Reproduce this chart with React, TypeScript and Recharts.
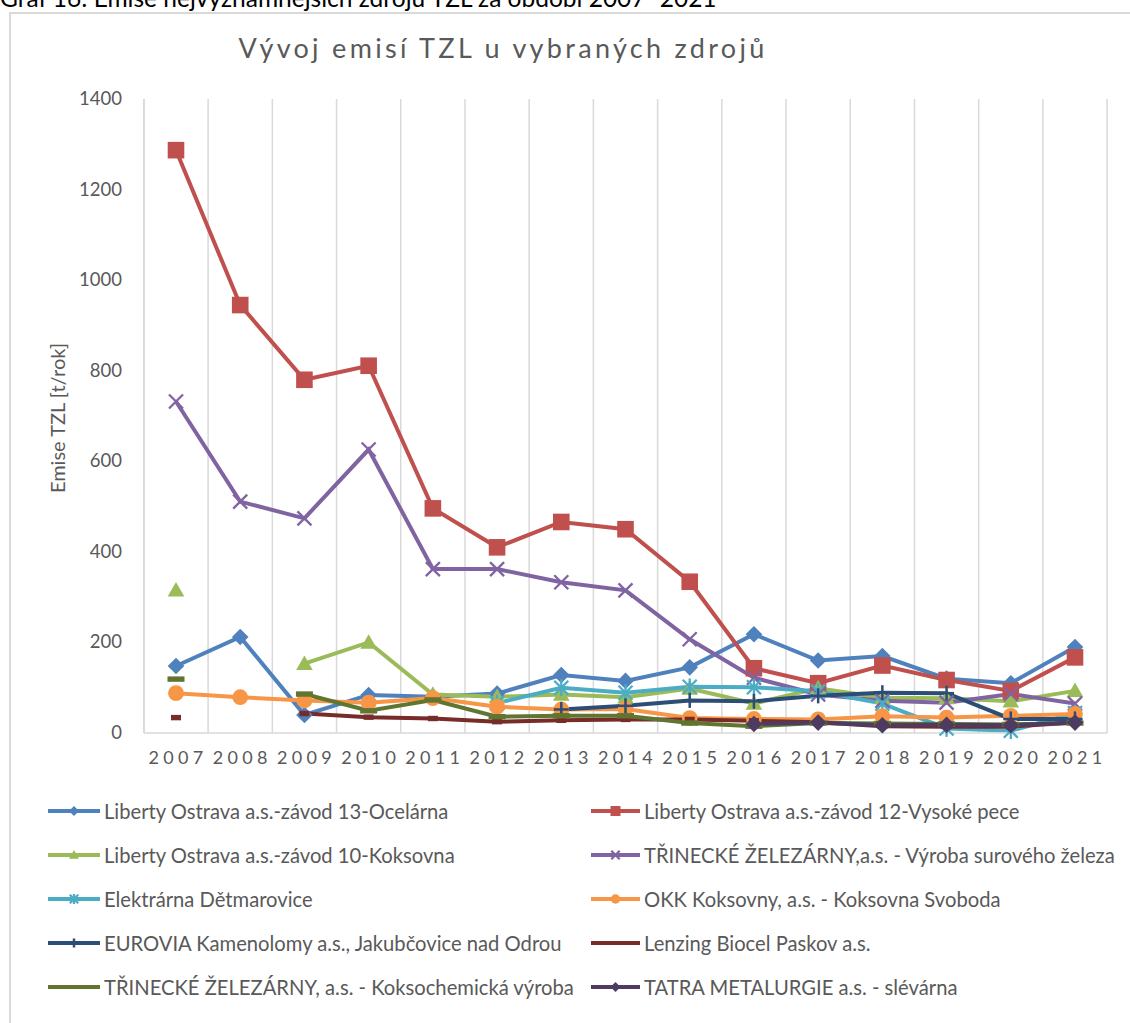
import React from 'react';
import { LineChart, Line, XAxis, YAxis, CartesianGrid } from 'recharts';

const categories = ['2007', '2008', '2009', '2010', '2011', '2012', '2013', '2014', '2015', '2016', '2017', '2018', '2019', '2020', '2021'];
const yTicks = [0, 200, 400, 600, 800, 1000, 1200, 1400];

const ocelarna = [148, 212, 40, 84, 80, 87, 128, 115, 145, 218, 160, 170, 120, 110, 190];
const vysokePece = [1287, 945, 780, 811, 496, 410, 466, 450, 334, 143, 110, 149, 117, 93, 167];
const koksovna = [315, null, 153, 200, 85, 80, 85, 79, 98, 65, 99, 78, 77, 70, 93];
const surovehoZeleza = [732, 511, 474, 626, 362, 362, 333, 315, 207, 122, 85, 71, 67, 86, 65];
const detmarovice = [null, null, null, null, null, 66, 100, 89, 102, 101, 92, 65, 10, 5, 44];
const okkSvoboda = [88, 79, 72, 67, 77, 58, 52, 53, 33, 31, 30, 37, 34, 38, 42];
const eurovia = [null, null, null, null, null, null, 52, 60, 72, 70, 82, 89, 88, 31, 31];
const lenzing = [34, null, 43, 35, 32, 25, 28, 30, 30, 27, 24, 15, 14, 14, 23];
const koksochemicka = [119, null, 86, 49, 73, 36, 38, 38, 22, 15, 22, 21, 20, 19, 22];
const tatra = [null, null, null, null, null, null, null, null, null, 20, 23, 17, 18, 17, 23];

const seriesNames = [
  'Liberty Ostrava a.s.-závod 13-Ocelárna',
  'Liberty Ostrava a.s.-závod 12-Vysoké pece',
  'Liberty Ostrava a.s.-závod 10-Koksovna',
  'TŘINECKÉ ŽELEZÁRNY,a.s. - Výroba surového železa',
  'Elektrárna Dětmarovice',
  'OKK Koksovny, a.s. - Koksovna Svoboda',
  'EUROVIA Kamenolomy a.s., Jakubčovice nad Odrou',
  'Lenzing Biocel Paskov a.s.',
  'TŘINECKÉ ŽELEZÁRNY, a.s. - Koksochemická výroba',
  'TATRA METALURGIE a.s. - slévárna',
];
const seriesValues = [ocelarna, vysokePece, koksovna, surovehoZeleza, detmarovice, okkSvoboda, eurovia, lenzing, koksochemicka, tatra];
const seriesColors = ['#4F81BD', '#C0504D', '#9BBB59', '#8064A2', '#4BACC6', '#F79646', '#2C4D75', '#772C2A', '#5F7530', '#4D3B62'];
const seriesShapes = ['diamond', 'square', 'triangle', 'x', 'asterisk', 'circle', 'plus', 'shortdash', 'dash', 'diamond'];

const data = categories.map((year, i) => {
  const row: Record<string, any> = { year };
  seriesValues.forEach((vals, s) => {
    row['s' + s] = vals[i];
  });
  return row;
});

const FONT = 'Lato, "Open Sans", sans-serif';
const GRAY = '#595959';
const GRID = '#d9d9d9';
const X_PAD = 32;

function Marker({ shape, cx, cy, color, k = 1 }: { shape: string; cx: number; cy: number; color: string; k?: number }) {
  const s = 8.3 * k;
  switch (shape) {
    case 'diamond':
      return <polygon points={`${cx},${cy - s} ${cx + s},${cy} ${cx},${cy + s} ${cx - s},${cy}`} fill={color} />;
    case 'square':
      return <rect x={cx - s} y={cy - s} width={2 * s} height={2 * s} fill={color} />;
    case 'triangle':
      return <polygon points={`${cx},${cy - s} ${cx + s},${cy + s * 0.75} ${cx - s},${cy + s * 0.75}`} fill={color} />;
    case 'circle':
      return <circle cx={cx} cy={cy} r={s * 0.95} fill={color} />;
    case 'x': {
      const h = 7 * k;
      return (
        <g stroke={color} strokeWidth={2.3}>
          <line x1={cx - h} y1={cy - h} x2={cx + h} y2={cy + h} />
          <line x1={cx - h} y1={cy + h} x2={cx + h} y2={cy - h} />
        </g>
      );
    }
    case 'asterisk': {
      const h = 7 * k;
      return (
        <g stroke={color} strokeWidth={2.3}>
          <line x1={cx - h} y1={cy - h} x2={cx + h} y2={cy + h} />
          <line x1={cx - h} y1={cy + h} x2={cx + h} y2={cy - h} />
          <line x1={cx} y1={cy - h * 1.2} x2={cx} y2={cy + h * 1.2} />
        </g>
      );
    }
    case 'plus': {
      const h = 7.5 * k;
      return (
        <g stroke={color} strokeWidth={2.5}>
          <line x1={cx} y1={cy - h} x2={cx} y2={cy + h} />
          <line x1={cx - h} y1={cy} x2={cx + h} y2={cy} />
        </g>
      );
    }
    case 'dash':
      return <rect x={cx - 8.5 * k} y={cy - 2.7 * k} width={17 * k} height={5.4 * k} fill={color} />;
    case 'shortdash':
      return <rect x={cx - 5 * k} y={cy - 2.7 * k} width={10 * k} height={5.4 * k} fill={color} />;
    default:
      return null;
  }
}

function makeDot(s: number) {
  return (props: any) => {
    const { cx, cy, value, index } = props;
    if (value == null || cy == null || cx == null || Number.isNaN(cy)) {
      return <g key={`d${s}-${index}`} />;
    }
    return (
      <g key={`d${s}-${index}`}>
        <Marker shape={seriesShapes[s]} cx={cx} cy={cy} color={seriesColors[s]} />
      </g>
    );
  };
}

const XTick = (props: any) => {
  const { x, y, payload } = props;
  return (
    <text x={x + 2} y={y} dy={13} textAnchor="middle" fill={GRAY} fontSize={18} fontFamily={FONT} style={{ letterSpacing: '4.3px' }}>
      {payload.value}
    </text>
  );
};

const YTick = (props: any) => {
  const { x, y, payload } = props;
  return (
    <text x={x} y={y} dy={6} textAnchor="end" fill={GRAY} fontSize={18.5} fontFamily={FONT}>
      {payload.value}
    </text>
  );
};

// Gridlines between categories, derived from the plot offset and the axis padding
const gridGenerator = ({ offset }: any) => {
  if (!offset) return [];
  const n = categories.length;
  const step = (offset.width - 2 * X_PAD) / (n - 1);
  const first = offset.left + X_PAD - step / 2;
  return Array.from({ length: n + 1 }, (_, i) => first + i * step);
};

const legendRows = [811, 855, 899, 943, 987];

function LegendItem({ s, left, lineW }: { s: number; left: number; lineW: number }) {
  const row = Math.floor(s / 2);
  const top = legendRows[row];
  return (
    <div style={{ position: 'absolute', left, top: top - 13, height: 26, display: 'flex', alignItems: 'center', whiteSpace: 'nowrap' }}>
      <svg width={lineW} height={26} style={{ display: 'block' }}>
        <line x1={0} y1={13} x2={lineW} y2={13} stroke={seriesColors[s]} strokeWidth={4} />
        <Marker shape={seriesShapes[s]} cx={lineW / 2} cy={13} color={seriesColors[s]} k={0.6} />
      </svg>
      <span style={{ marginLeft: 4, fontFamily: FONT, fontSize: 20.2, color: GRAY, lineHeight: '26px' }}>{seriesNames[s]}</span>
    </div>
  );
}

export default function App() {
  return (
    <div style={{ position: 'absolute', left: 0, top: 0, width: 1130, height: 1023, overflow: 'hidden', background: '#fff' }}>
      <div style={{ position: 'absolute', left: 0, top: -12, fontFamily: FONT, fontSize: 24.5, lineHeight: '20px', color: '#000', whiteSpace: 'nowrap' }}>
        Graf 16: Emise nejvýznamnějších zdrojů TZL za období 2007–2021
      </div>
      <div style={{ position: 'absolute', left: 9, top: 12, width: 1140, height: 1030, border: `2px solid ${GRID}`, boxSizing: 'border-box' }} />
      <div style={{ position: 'absolute', left: 0, top: 0 }}>
        <LineChart width={1130} height={1023} data={data} margin={{ top: 99, right: 23, left: 0, bottom: 250 }}>
          <CartesianGrid horizontal={false} vertical stroke={GRID} strokeWidth={1.5} verticalCoordinatesGenerator={gridGenerator} />
          <XAxis
            dataKey="year"
            padding={{ left: X_PAD, right: X_PAD }}
            height={40}
            interval={0}
            tickSize={0}
            tickMargin={18}
            tickLine={false}
            axisLine={{ stroke: GRID, strokeWidth: 1.5 }}
            tick={<XTick />}
          />
          <YAxis
            width={144}
            domain={[0, 1400]}
            ticks={yTicks}
            interval={0}
            tickSize={0}
            tickMargin={22}
            tickLine={false}
            axisLine={{ stroke: GRID, strokeWidth: 1.5 }}
            tick={<YTick />}
          />
          {seriesNames.map((name, s) => (
            <Line
              key={name}
              type="linear"
              dataKey={'s' + s}
              name={name}
              stroke={seriesColors[s]}
              strokeWidth={4}
              connectNulls={false}
              dot={makeDot(s)}
              activeDot={false}
              isAnimationActive={false}
            />
          ))}
        </LineChart>
      </div>
      <div style={{ position: 'absolute', left: 503, top: 47, transform: 'translate(-50%, -50%)', fontFamily: FONT, fontSize: 27, letterSpacing: '3.3px', color: GRAY, whiteSpace: 'nowrap' }}>
        Vývoj emisí TZL u vybraných zdrojů
      </div>
      <div
        style={{
          position: 'absolute',
          left: 57,
          top: 418,
          transform: 'translate(-50%, -50%) rotate(-90deg)',
          fontFamily: FONT,
          fontSize: 20,
          color: GRAY,
          whiteSpace: 'nowrap',
        }}
      >
        Emise TZL [t/rok]
      </div>
      {seriesNames.map((_, s) =>
        s % 2 === 0 ? <LegendItem key={s} s={s} left={48} lineW={52} /> : <LegendItem key={s} s={s} left={591} lineW={49} />
      )}
    </div>
  );
}
